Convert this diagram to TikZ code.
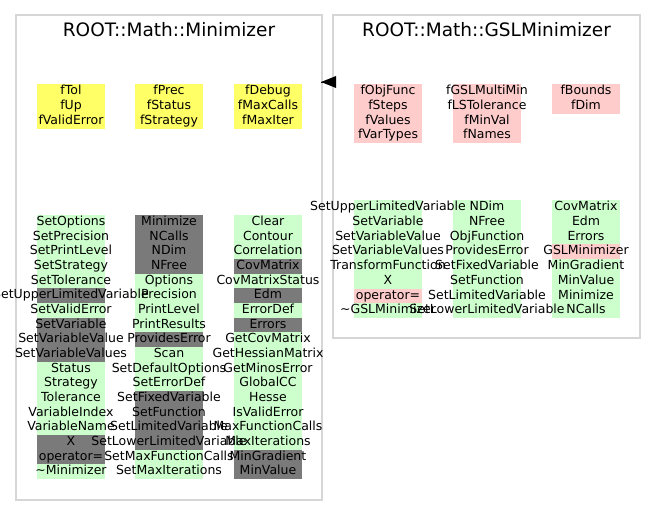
\documentclass[tikz,border=0pt]{standalone}
\usepackage{fontspec}
\setmainfont{DejaVu Sans}
\usetikzlibrary{arrows.meta}
\definecolor{mg}{RGB}{204,255,204}
\definecolor{md}{RGB}{122,122,122}
\definecolor{mp}{RGB}{255,204,204}
\definecolor{my}{RGB}{255,255,102}
\definecolor{frame}{RGB}{214,214,214}
\newcommand\cellcol[6]{%
  \foreach[count=\i] \c/\t in #6 {
    \node[cell=#5, fill=\c] (#1-\i) at ({#2+#4/2},{#3+(\i-0.5)*#5}) {};
  }}
\newcommand\celltxt[6]{%
  \foreach[count=\i] \c/\t in #6 {
    \node[txt] (#1t\i) at ({#2+#4/2},{#3+(\i-0.5)*#5}) {\t};
  }}
\begin{document}
\begin{tikzpicture}[x=1pt,y=-1pt,
  cell/.style={minimum width=68pt, minimum height=#1 pt, inner sep=0pt, outer sep=0pt, draw=none},
  txt/.style={inner sep=0pt, text height=9.5pt, text depth=3pt, font=\fontsize{12.5}{14.7}\selectfont},
  classbox/.style={draw=frame, line width=1.5pt, inner sep=0pt},
  title/.style={font=\fontsize{18.5}{21}\selectfont, anchor=base}]
\useasboundingbox (0,0) rectangle (656,527);
% class frames
\node[classbox, minimum width=306pt, minimum height=485pt] (L) at (169,257.5) {};
\node[classbox, minimum width=307pt, minimum height=323pt] (R) at (486.5,176.5) {};
\node[title] (Lt) at (169,37) {ROOT::Math::Minimizer};
\node[title] (Rt) at (486.5,37) {ROOT::Math::GSLMinimizer};
% inheritance
\coordinate (ra) at (336,82);
\coordinate (la) at (321,82);
\fill (la) -- (336,76) -- (336,88) -- cycle;
\draw (ra) -- (la);
% ---------- lists
\def\LfA{my/fTol,my/fUp,my/fValidError}
\def\LfB{my/fPrec,my/fStatus,my/fStrategy}
\def\LfC{my/fDebug,my/fMaxCalls,my/fMaxIter}
\def\LmA{mg/SetOptions,mg/SetPrecision,mg/SetPrintLevel,mg/SetStrategy,mg/SetTolerance,md/SetUpperLimitedVariable,mg/SetValidError,md/SetVariable,md/SetVariableValue,md/SetVariableValues,mg/Status,mg/Strategy,mg/Tolerance,mg/VariableIndex,mg/VariableName,md/X,md/operator=,mg/\textasciitilde Minimizer}
\def\LmB{md/Minimize,md/NCalls,md/NDim,md/NFree,mg/Options,mg/Precision,mg/PrintLevel,mg/PrintResults,md/ProvidesError,mg/Scan,mg/SetDefaultOptions,mg/SetErrorDef,md/SetFixedVariable,md/SetFunction,md/SetLimitedVariable,md/SetLowerLimitedVariable,mg/SetMaxFunctionCalls,mg/SetMaxIterations}
\def\LmC{mg/Clear,mg/Contour,mg/Correlation,md/CovMatrix,mg/CovMatrixStatus,md/Edm,mg/ErrorDef,md/Errors,mg/GetCovMatrix,mg/GetHessianMatrix,mg/GetMinosError,mg/GlobalCC,mg/Hesse,mg/IsValidError,mg/MaxFunctionCalls,mg/MaxIterations,md/MinGradient,md/MinValue}
\def\RfA{mp/fObjFunc,mp/fSteps,mp/fValues,mp/fVarTypes}
\def\RfB{mp/fGSLMultiMin,mp/fLSTolerance,mp/fMinVal,mp/fNames}
\def\RfC{mp/fBounds,mp/fDim}
\def\RmA{mg/SetUpperLimitedVariable,mg/SetVariable,mg/SetVariableValue,mg/SetVariableValues,mg/TransformFunction,mg/X,mp/operator=,mg/\textasciitilde GSLMinimizer}
\def\RmB{mg/NDim,mg/NFree,mg/ObjFunction,mg/ProvidesError,mg/SetFixedVariable,mg/SetFunction,mg/SetLimitedVariable,mg/SetLowerLimitedVariable}
\def\RmC{mg/CovMatrix,mg/Edm,mg/Errors,mp/GSLMinimizer,mg/MinGradient,mg/MinValue,mg/Minimize,mg/NCalls}
% ---------- backgrounds
\cellcol{lfa}{37}{84}{68}{15}{\LfA}
\cellcol{lfb}{135}{84}{68}{15}{\LfB}
\cellcol{lfc}{234}{84}{68}{15}{\LfC}
\cellcol{lma}{37}{215}{68}{14.67}{\LmA}
\cellcol{lmb}{135}{215}{68}{14.67}{\LmB}
\cellcol{lmc}{234}{215}{68}{14.67}{\LmC}
\cellcol{rfa}{354}{84}{68}{14.75}{\RfA}
\cellcol{rfb}{453}{84}{68}{14.75}{\RfB}
\cellcol{rfc}{552}{84}{68}{14.75}{\RfC}
\cellcol{rma}{354}{200}{68}{14.75}{\RmA}
\cellcol{rmb}{453}{200}{68}{14.75}{\RmB}
\cellcol{rmc}{552}{200}{68}{14.75}{\RmC}
% ---------- texts
\celltxt{lfa}{37}{84}{68}{15}{\LfA}
\celltxt{lfb}{135}{84}{68}{15}{\LfB}
\celltxt{lfc}{234}{84}{68}{15}{\LfC}
\celltxt{lma}{37}{215}{68}{14.67}{\LmA}
\celltxt{lmb}{135}{215}{68}{14.67}{\LmB}
\celltxt{lmc}{234}{215}{68}{14.67}{\LmC}
\celltxt{rfa}{354}{84}{68}{14.75}{\RfA}
\celltxt{rfb}{453}{84}{68}{14.75}{\RfB}
\celltxt{rfc}{552}{84}{68}{14.75}{\RfC}
\celltxt{rma}{354}{200}{68}{14.75}{\RmA}
\celltxt{rmb}{453}{200}{68}{14.75}{\RmB}
\celltxt{rmc}{552}{200}{68}{14.75}{\RmC}
\end{tikzpicture}
\end{document}
